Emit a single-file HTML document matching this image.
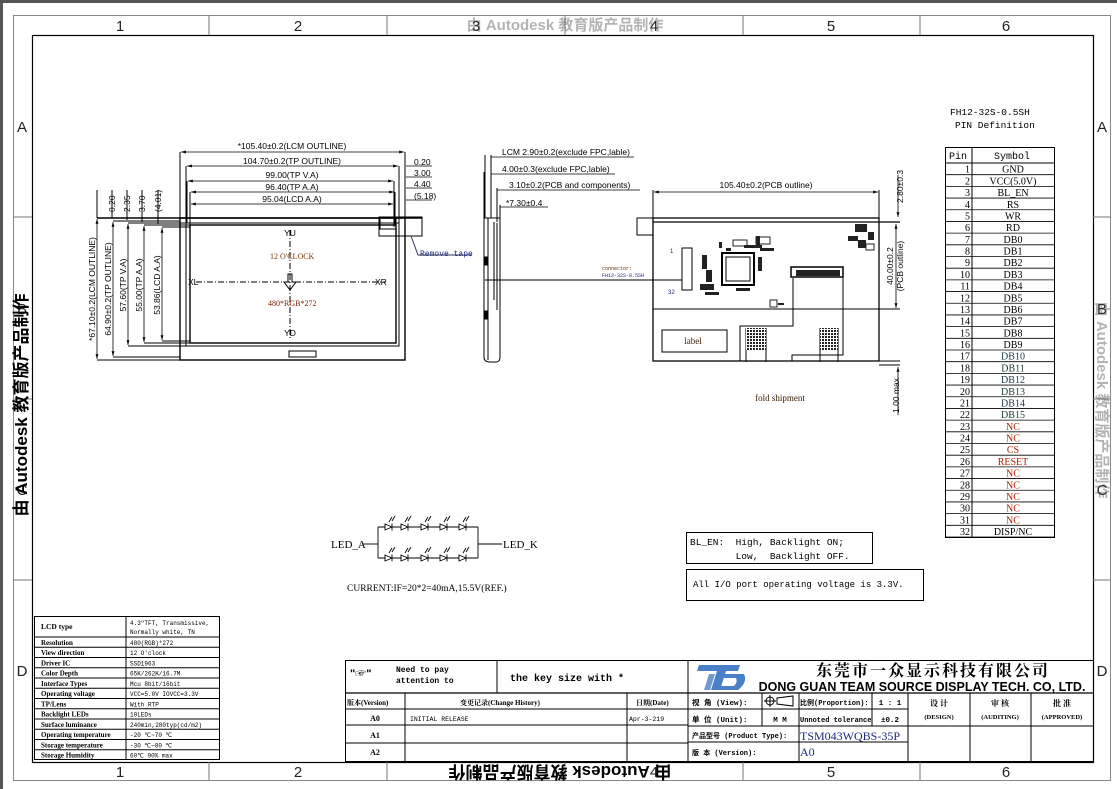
<!DOCTYPE html>
<html><head><meta charset="utf-8"><style>
html,body{margin:0;padding:0;background:#fff;}
svg{display:block;}
text{font-family:"Liberation Sans","Noto Sans CJK SC",sans-serif;}
.s,.s text,text.s{font-family:"Liberation Serif","Noto Serif CJK SC",serif;}
.m,.m text,text.m{font-family:"Liberation Mono","Noto Sans CJK SC",monospace;}
</style></head><body>
<svg width="1117" height="789" viewBox="0 0 1117 789" xmlns="http://www.w3.org/2000/svg">
<defs>
<marker id="a" viewBox="0 0 10 10" refX="10" refY="5" markerWidth="6" markerHeight="6" orient="auto-start-reverse"><path d="M0,2 L10,5 L0,8z" fill="#000"/></marker>
<pattern id="h" width="3" height="3" patternUnits="userSpaceOnUse"><rect width="3" height="3" fill="#fff"/><rect width="2" height="2" fill="#222"/></pattern>
</defs>
<rect x="0" y="0" width="1117" height="789" fill="#fff"/>
<rect x="0" y="0" width="1117" height="3" fill="#555"/>
<rect x="0" y="0" width="3" height="789" fill="#555"/>
<rect x="13.5" y="15.5" width="1097" height="765" fill="none" stroke="#888" stroke-width="1"/>
<rect x="32.5" y="35.5" width="1061" height="727" fill="none" stroke="#000" stroke-width="1.2"/>
<g stroke="#777" stroke-width="1">
<line x1="209" y1="15" x2="209" y2="35"/><line x1="387" y1="15" x2="387" y2="35"/><line x1="565" y1="15" x2="565" y2="35"/><line x1="743" y1="15" x2="743" y2="35"/><line x1="920" y1="15" x2="920" y2="35"/>
<line x1="209" y1="762" x2="209" y2="780"/><line x1="387" y1="762" x2="387" y2="780"/><line x1="565" y1="762" x2="565" y2="780"/><line x1="743" y1="762" x2="743" y2="780"/><line x1="920" y1="762" x2="920" y2="780"/>
<line x1="13" y1="217" x2="32" y2="217"/><line x1="13" y1="399" x2="32" y2="399"/><line x1="13" y1="580" x2="32" y2="580"/>
<line x1="1093" y1="217" x2="1110" y2="217"/><line x1="1093" y1="399" x2="1110" y2="399"/><line x1="1093" y1="580" x2="1110" y2="580"/>
</g>
<g font-size="15" fill="#222" text-anchor="middle">
<text x="120" y="31">1</text><text x="298" y="31">2</text><text x="476" y="31">3</text><text x="654" y="31">4</text><text x="831" y="31">5</text><text x="1006" y="31">6</text>
<text x="120" y="777">1</text><text x="298" y="777">2</text><text x="476" y="777">3</text><text x="654" y="777">4</text><text x="831" y="777">5</text><text x="1006" y="777">6</text>
<text x="22" y="132">A</text><text x="22" y="314">B</text><text x="22" y="495">C</text><text x="22" y="676">D</text>
<text x="1102" y="132">A</text><text x="1102" y="314">B</text><text x="1102" y="495">C</text><text x="1102" y="676">D</text>
</g>
<text transform="translate(27,405) rotate(-90)" font-size="17" font-weight="bold" text-anchor="middle" fill="#000">由 Autodesk 教育版产品制作</text>
<text transform="translate(560,766) rotate(180)" font-size="17" font-weight="bold" text-anchor="middle" fill="#000">由 Autodesk 教育版产品制作</text>
<text transform="translate(1097,400) rotate(90)" font-size="15" font-weight="bold" text-anchor="middle" fill="#444" opacity="0.4">由 Autodesk 教育版产品制作</text>
<text x="565" y="30" font-size="15" font-weight="bold" text-anchor="middle" fill="#444" opacity="0.4">由 Autodesk 教育版产品制作</text>

<!-- FRONT VIEW -->
<g fill="none" stroke="#000" stroke-width="1">
<rect x="180" y="218" width="225" height="142" stroke-width="1.4"/>
<rect x="186" y="223" width="213" height="123"/>
<rect x="190" y="225" width="206" height="118" stroke-width="1.4"/>
<line x1="97" y1="218" x2="422" y2="218" stroke-width="1.6"/>
<line x1="113" y1="221" x2="180" y2="221"/>
<line x1="128" y1="223" x2="186" y2="223"/>
<line x1="144" y1="225" x2="190" y2="225"/>
<line x1="162" y1="227" x2="190" y2="227"/>
<line x1="97" y1="360" x2="180" y2="360"/>
<line x1="113" y1="357" x2="180" y2="357"/>
<line x1="128" y1="346" x2="186" y2="346"/>
<line x1="144" y1="343" x2="190" y2="343"/>
<line x1="162" y1="341" x2="190" y2="341"/>
<rect x="379" y="217" width="43" height="19"/>
<rect x="380" y="218" width="16" height="11"/>
<path d="M411,236 L418,255 L472,255" stroke="#335"/>
<rect x="289" y="351" width="27" height="6"/>
<line x1="290" y1="230" x2="290" y2="340" stroke-dasharray="6,2,1,2"/>
<line x1="196" y1="282" x2="386" y2="282" stroke-dasharray="6,2,1,2"/>
<path d="M288,274 L288,282 L284,282 L290,290 L296,282 L292,282 L292,274z"/>
<line x1="180" y1="152" x2="180" y2="218"/><line x1="405" y1="152" x2="405" y2="218"/>
<line x1="186" y1="166" x2="186" y2="223"/><line x1="399" y1="166" x2="399" y2="223"/>
<line x1="187" y1="181" x2="187" y2="223"/><line x1="394" y1="181" x2="394" y2="223"/>
<line x1="190" y1="192" x2="190" y2="225"/><line x1="395" y1="192" x2="395" y2="225"/>
<line x1="190" y1="204" x2="190" y2="227"/><line x1="394" y1="204" x2="394" y2="227"/>
<line x1="97" y1="190" x2="97" y2="218"/><line x1="112" y1="190" x2="112" y2="218"/><line x1="127" y1="190" x2="127" y2="220"/><line x1="142" y1="190" x2="142" y2="222"/><line x1="158" y1="190" x2="158" y2="224"/>
</g>
<g stroke="#000" stroke-width="0.8" marker-start="url(#a)" marker-end="url(#a)">
<line x1="181" y1="152" x2="404" y2="152"/>
<line x1="187" y1="166" x2="398" y2="166"/>
<line x1="188" y1="181" x2="393" y2="181"/>
<line x1="191" y1="192" x2="394" y2="192"/>
<line x1="191" y1="204" x2="393" y2="204"/>
<line x1="97" y1="219" x2="97" y2="359"/>
<line x1="113" y1="222" x2="113" y2="356"/>
<line x1="128" y1="224" x2="128" y2="345"/>
<line x1="144" y1="226" x2="144" y2="342"/>
<line x1="162" y1="228" x2="162" y2="340"/>
</g>
<g stroke="#000" stroke-width="0.8">
<line x1="406" y1="166" x2="432" y2="166"/><line x1="406" y1="177" x2="432" y2="177"/><line x1="406" y1="188" x2="432" y2="188"/><line x1="406" y1="200" x2="432" y2="200"/>
</g>
<g font-size="8.5" fill="#000">
<text x="292" y="149" text-anchor="middle">*105.40±0.2(LCM OUTLINE)</text>
<text x="292" y="164" text-anchor="middle">104.70±0.2(TP OUTLINE)</text>
<text x="292" y="178" text-anchor="middle">99.00(TP V.A)</text>
<text x="292" y="190" text-anchor="middle">96.40(TP A.A)</text>
<text x="292" y="202" text-anchor="middle">95.04(LCD A.A)</text>
<text x="414" y="165">0.20</text><text x="414" y="176">3.00</text><text x="414" y="187">4.40</text><text x="414" y="199">(5.18)</text>
<text transform="translate(115,212) rotate(-90)">0.20</text>
<text transform="translate(130,212) rotate(-90)">2.35</text>
<text transform="translate(145,212) rotate(-90)">3.70</text>
<text transform="translate(161,212) rotate(-90)">(4.01)</text>
<text transform="translate(95,289) rotate(-90)" text-anchor="middle">*67.10±0.2(LCM OUTLINE)</text>
<text transform="translate(111,289) rotate(-90)" text-anchor="middle">64.90±0.2(TP OUTLINE)</text>
<text transform="translate(126,285) rotate(-90)" text-anchor="middle">57.60(TP V.A)</text>
<text transform="translate(142,285) rotate(-90)" text-anchor="middle">55.00(TP A.A)</text>
<text transform="translate(160,285) rotate(-90)" text-anchor="middle">53.86(LCD A.A)</text>
<text x="290" y="236" text-anchor="middle">YU</text>
<text x="290" y="336" text-anchor="middle">YD</text>
<text x="188" y="285">XL</text>
<text x="375" y="285">XR</text>
</g>
<text x="270" y="259" font-size="8" class="s" fill="#7a3a00">12 O'CLOCK</text>
<text x="268" y="306" font-size="8" class="s" fill="#7a1a00">480*RGB*272</text>
<text x="420" y="256" font-size="8" class="m" fill="#1a2a7a">Remove tape</text>

<!-- SIDE VIEW -->
<g fill="none" stroke="#000" stroke-width="1">
<path d="M484,218 L484,357 Q484,362 490,362 L496,362 Q500,362 500,357 L500,218z"/>
<line x1="488" y1="218" x2="488" y2="360"/>
<line x1="494" y1="222" x2="494" y2="300"/>
<line x1="497" y1="223" x2="497" y2="310"/>
<rect x="484" y="257" width="3" height="8" fill="#000"/><rect x="484" y="311" width="3" height="8" fill="#000"/>
<line x1="485" y1="155" x2="485" y2="218"/><line x1="491" y1="155" x2="491" y2="218"/>
<line x1="484" y1="172" x2="484" y2="218"/><line x1="497" y1="188" x2="497" y2="222"/><line x1="500" y1="205" x2="500" y2="218"/>
</g>
<g stroke="#000" stroke-width="0.8">
<line x1="491" y1="157" x2="634" y2="157"/><line x1="491" y1="174" x2="615" y2="174"/><line x1="497" y1="190" x2="640" y2="190"/><line x1="500" y1="207" x2="548" y2="207"/>
</g>
<g font-size="8.5" fill="#000">
<text x="502" y="155">LCM 2.90±0.2(exclude FPC,lable)</text>
<text x="502" y="172">4.00±0.3(exclude FPC,lable)</text>
<text x="509" y="188">3.10±0.2(PCB and components)</text>
<text x="506" y="206">*7.30±0.4</text>
</g>

<!-- BACK VIEW -->
<g fill="none" stroke="#000" stroke-width="1">
<rect x="653" y="218" width="226" height="143" stroke-width="1.3"/>
<line x1="653" y1="222" x2="900" y2="222" stroke-width="1.3"/>
<line x1="653" y1="309" x2="900" y2="309"/>
<rect x="637" y="218" width="16" height="17"/>
<line x1="653" y1="190" x2="653" y2="218"/><line x1="879" y1="190" x2="879" y2="218"/>
<line x1="879" y1="361" x2="900" y2="361"/><line x1="879" y1="365" x2="900" y2="365"/>
<rect x="662" y="330" width="65" height="22"/>
<rect x="722" y="253" width="32" height="32" stroke-width="2"/>
<rect x="726" y="257" width="24" height="24"/>
<rect x="682" y="248" width="10" height="42"/>
<rect x="791" y="267" width="52" height="10" stroke-width="1.5"/>
<path d="M793,278 L793,326 L740,326 L740,361"/>
<path d="M843,278 L843,355 L792,355 L792,361"/>
<path d="M746,328 L746,362 M766,328 L766,362 M820,328 L820,362 M838,328 L838,362"/>
<line x1="485" y1="280" x2="682" y2="280"/>
</g>
<rect x="746" y="328" width="20" height="22" fill="url(#h)"/>
<rect x="820" y="328" width="18" height="22" fill="url(#h)"/>
<g fill="#222">
<rect x="719" y="242" width="3" height="6"/><rect x="726" y="248" width="5" height="3"/><rect x="733" y="240" width="14" height="6" fill="none" stroke="#222"/><rect x="744" y="245" width="18" height="3"/><rect x="756" y="236" width="4" height="10"/>
<rect x="756" y="237" width="14" height="7" fill="none" stroke="#222"/><rect x="760" y="248" width="14" height="3"/>
<rect x="702" y="255" width="5" height="14"/><rect x="706" y="270" width="6" height="12"/><rect x="700" y="284" width="14" height="6"/><rect x="705" y="292" width="14" height="3"/>
<rect x="758" y="257" width="4" height="14"/><rect x="736" y="288" width="14" height="3"/>
<rect x="770" y="300" width="7" height="7" fill="none" stroke="#222"/><rect x="778" y="303" width="6" height="2"/>
<rect x="855" y="224" width="12" height="8"/><rect x="848" y="236" width="10" height="5"/><rect x="858" y="240" width="8" height="8"/><rect x="868" y="232" width="6" height="8"/><rect x="866" y="244" width="8" height="6" fill="none" stroke="#222"/>
<rect x="796" y="270" width="44" height="6"/>
</g>
<g font-size="8.5" fill="#000">
<text x="766" y="188" text-anchor="middle">105.40±0.2(PCB outline)</text>
<text transform="translate(903,203) rotate(-90)">2.80±0.3</text>
<text transform="translate(893,266) rotate(-90)" text-anchor="middle">40.00±0.2</text>
<text transform="translate(903,266) rotate(-90)" text-anchor="middle">(PCB outline)</text>
<text transform="translate(899,413) rotate(-90)">1.00 max</text>
</g>
<g stroke="#000" stroke-width="0.8">
<line x1="654" y1="192" x2="878" y2="192" marker-start="url(#a)" marker-end="url(#a)"/>
<line x1="898" y1="175" x2="898" y2="217" marker-end="url(#a)"/>
<line x1="896" y1="224" x2="896" y2="308" marker-start="url(#a)" marker-end="url(#a)"/>
<line x1="898" y1="367" x2="898" y2="415" marker-start="url(#a)"/>
</g>
<text x="693" y="344" font-size="9" class="s" text-anchor="middle" fill="#3a1a00">label</text>
<text x="780" y="401" font-size="9" class="s" text-anchor="middle" fill="#3a1a00">fold shipment</text>
<text x="670" y="253" font-size="6" fill="#1a2a7a">1</text>
<text x="668" y="294" font-size="6" fill="#1a2a7a">32</text>
<text x="602" y="270" font-size="5" class="m" fill="#5a2a00">connector:</text>
<text x="602" y="277" font-size="5" class="m" fill="#1a2a7a">FH12-32S-0.5SH</text>

<!-- LED circuit -->
<g fill="none" stroke="#000" stroke-width="0.9">
<line x1="362" y1="544" x2="378" y2="544"/><line x1="378" y1="527" x2="378" y2="558"/>
<line x1="478" y1="527" x2="478" y2="558"/><line x1="478" y1="544" x2="502" y2="544"/>
<line x1="378" y1="527" x2="478" y2="527"/><line x1="378" y1="558" x2="478" y2="558"/>
</g>
<g id="leds" fill="#fff" stroke="#000" stroke-width="0.9"></g>
<script>
var ns="http://www.w3.org/2000/svg",lg=document.getElementById("leds");
[389,405,425,444,463].forEach(function(x){[527,558].forEach(function(y){
var p=document.createElementNS(ns,"path");
p.setAttribute("d","M"+(x-4)+","+(y-3)+" L"+(x+3)+","+y+" L"+(x-4)+","+(y+3)+"z M"+(x+3)+","+(y-3.5)+" L"+(x+3)+","+(y+3.5)+" M"+x+","+(y-5)+" L"+(x+3)+","+(y-10)+" M"+(x+3)+","+(y-6)+" L"+(x+6)+","+(y-11));
lg.appendChild(p);});});
</script>
<g class="s" fill="#000" font-size="11">
<text x="331" y="548">LED_A</text><text x="503" y="548">LED_K</text>
</g>
<text x="347" y="591" class="s" font-size="9.5">CURRENT:IF=20*2=40mA,15.5V(REF.)</text>
<rect x="686.5" y="532.5" width="186" height="31" fill="none" stroke="#000"/>
<rect x="686.5" y="569.5" width="237" height="31" fill="none" stroke="#000"/>
<g class="m" font-size="9.5" fill="#000">
<text x="690" y="545" xml:space="preserve">BL_EN:  High, Backlight ON;</text>
<text x="690" y="559" xml:space="preserve">        Low,  Backlight OFF.</text>
<text x="693" y="587" font-size="9">All I/O port operating voltage is 3.3V.</text>
</g>

<!-- PIN table -->
<text x="950" y="115" class="m" font-size="9.5">FH12-32S-0.5SH</text>
<text x="955" y="128" class="m" font-size="9.5">PIN Definition</text>
<g stroke="#000" fill="none" stroke-width="1">
<rect x="945.5" y="147.5" width="109" height="390"/>
<line x1="972" y1="147" x2="972" y2="537"/>
<line x1="945" y1="163" x2="1055" y2="163"/>
</g>
<g id="pins" font-size="10" class="s" fill="#000"></g>
<text x="958" y="159" font-size="10" class="m" text-anchor="middle">Pin</text>
<text x="1012" y="159" font-size="10" class="m" text-anchor="middle">Symbol</text>
<script>
var syms=["GND","VCC(5.0V)","BL_EN","RS","WR","RD","DB0","DB1","DB2","DB3","DB4","DB5","DB6","DB7","DB8","DB9","DB10","DB11","DB12","DB13","DB14","DB15","NC","NC","CS","RESET","NC","NC","NC","NC","NC","DISP/NC"];
var g=document.getElementById("pins"),h=(537-163)/32;
for(var i=0;i<32;i++){var y=163+(i+1)*h;
var l=document.createElementNS(ns,"line");l.setAttribute("x1",945);l.setAttribute("x2",1055);l.setAttribute("y1",y);l.setAttribute("y2",y);l.setAttribute("stroke","#000");l.setAttribute("stroke-width","0.8");g.appendChild(l);
var t=document.createElementNS(ns,"text");t.setAttribute("x",970);t.setAttribute("y",y-2);t.setAttribute("text-anchor","end");t.textContent=i+1;g.appendChild(t);
var s=document.createElementNS(ns,"text");s.setAttribute("x",1013);s.setAttribute("y",y-2);s.setAttribute("text-anchor","middle");var red=(syms[i]=="NC"||syms[i]=="CS"||syms[i]=="RESET");s.setAttribute("fill",red?"#b02000":(i>=16&&i<22?"#1a3a3a":"#000"));s.textContent=syms[i];g.appendChild(s);}
</script>

<!-- spec table -->
<g stroke="#000" fill="none" stroke-width="1">
<rect x="34.5" y="616.5" width="185" height="143"/>
<line x1="126" y1="616" x2="126" y2="760"/>
</g>
<g id="spec" font-size="7"></g>
<script>
var rows=[["Resolution","480(RGB)*272"],["View direction","12 O'clock"],["Driver IC","SSD1963"],["Color Depth","65K/262K/16.7M"],["Interface Types","Mcu 8bit/16bit"],["Operating voltage","VCC=5.0V   IOVCC=3.3V"],["TP/Lens","With RTP"],["Backlight LEDs","10LEDs"],["Surface luminance","240min,280typ(cd/m2)"],["Operating temperature","-20 ℃~70 ℃"],["Storage temperature","-30 ℃~80 ℃"],["Storage Humidity","60℃ 90% max"]];
var g2=document.getElementById("spec"),y0=637,rh=(760-637)/12;
function tx(x,y,s,b,f,fs){var t=document.createElementNS(ns,"text");t.setAttribute("x",x);t.setAttribute("y",y);t.setAttribute("style","font-family:"+f+";font-size:"+fs+"px;"+(b?"font-weight:bold;":""));t.textContent=s;g2.appendChild(t);}
var SR='"Liberation Serif",serif',MO='"Liberation Mono",monospace';
tx(41,629,"LCD type",1,SR,7.5);tx(130,625,"4.3\"TFT, Transmissive,",0,MO,6);tx(130,634,"Normally white, TN",0,MO,6);
for(var i=0;i<12;i++){var y=y0+i*rh;var l=document.createElementNS(ns,"line");l.setAttribute("x1",34);l.setAttribute("x2",220);l.setAttribute("y1",y);l.setAttribute("y2",y);l.setAttribute("stroke","#000");g2.appendChild(l);
tx(41,y+rh-2.5,rows[i][0],1,SR,7);tx(130,y+rh-2.5,rows[i][1],0,MO,6);}
</script>

<!-- title block -->
<g stroke="#000" fill="none" stroke-width="1">
<rect x="345.5" y="660.5" width="748" height="101"/>
<line x1="497" y1="660" x2="497" y2="693"/><line x1="688" y1="660" x2="688" y2="762"/>
<line x1="345" y1="693" x2="1093" y2="693" stroke-width="1.3"/>
<line x1="345" y1="709" x2="688" y2="709"/><line x1="345" y1="725" x2="688" y2="725"/><line x1="345" y1="743" x2="688" y2="743"/>
<line x1="405" y1="693" x2="405" y2="762"/><line x1="627" y1="693" x2="627" y2="762"/>
<line x1="688" y1="709" x2="908" y2="709"/><line x1="688" y1="726" x2="908" y2="726"/><line x1="688" y1="742" x2="908" y2="742"/>
<line x1="762" y1="693" x2="762" y2="726"/><line x1="799" y1="693" x2="799" y2="762"/><line x1="872" y1="693" x2="872" y2="726"/>
<line x1="908" y1="693" x2="908" y2="762"/><line x1="970" y1="693" x2="970" y2="762"/><line x1="1031" y1="693" x2="1031" y2="762"/>
<line x1="908" y1="726" x2="1093" y2="726"/>
<circle cx="770" cy="701" r="4"/><line x1="764" y1="701" x2="776" y2="701"/><line x1="770" y1="695" x2="770" y2="707"/><path d="M777,698 L793,696 L793,706 L777,704z"/>
</g>
<g font-size="8" font-weight="bold" fill="#000">
<text x="350" y="677" font-size="11">"☞"</text>
<text x="396" y="672" class="m">Need to pay</text><text x="396" y="683" class="m">attention to</text>
<text x="510" y="681" font-size="10" class="m">the key size with *</text>
<text x="347" y="705" font-size="7" class="s">版本(Version)</text>
<text x="460" y="705" font-size="7" class="s">变更记录(Change History)</text>
<text x="636" y="705" font-size="7" class="s">日期(Date)</text>
<text x="375" y="721" text-anchor="middle" class="s">A0</text><text x="375" y="738" text-anchor="middle" class="s">A1</text><text x="375" y="755" text-anchor="middle" class="s">A2</text>
<text x="410" y="721" font-weight="normal" font-size="6.5" class="m">INITIAL RELEASE</text>
<text x="629" y="721" font-weight="normal" font-size="6.5" class="m">Apr-3-219</text>
<text x="692" y="705" font-size="7.5" class="m">视  角 (View):</text>
<text x="692" y="722" font-size="7.5" class="m">单  位 (Unit):</text>
<text x="780" y="722" text-anchor="middle" font-size="7.5" class="m">M M</text>
<text x="800" y="705" font-size="7" class="m">比例(Proportion):</text>
<text x="890" y="705" text-anchor="middle" font-size="7.5" class="m">1 : 1</text>
<text x="800" y="722" font-size="7" class="m">Unnoted tolerance</text>
<text x="890" y="722" text-anchor="middle" font-size="7.5" class="m">±0.2</text>
<text x="692" y="738" font-size="7" class="m">产品型号 (Product Type):</text>
<text x="692" y="755" font-size="7" class="m">版    本  (Version):</text>
<text x="939" y="706" text-anchor="middle" class="s">设 计</text><text x="939" y="719" text-anchor="middle" font-size="6.5" class="s">(DESIGN)</text>
<text x="1000" y="706" text-anchor="middle" class="s">审 核</text><text x="1000" y="719" text-anchor="middle" font-size="6.5" class="s">(AUDITING)</text>
<text x="1062" y="706" text-anchor="middle" class="s">批 准</text><text x="1062" y="719" text-anchor="middle" font-size="6.5" class="s">(APPROVED)</text>
</g>
<text x="800" y="740" font-size="12" class="s" fill="#1a2a7a">TSM043WQBS-35P</text>
<text x="800" y="756" font-size="12" class="s" fill="#1a2a7a">A0</text>
<g fill="#4a80c8">
<path d="M699,665 L740,665 L738,671 L726,671 L720,690 L711,690 L717,671 L697,671z"/>
<path d="M709,674 L715,674 L710,690 L704,690z" opacity="0.8"/>
<path d="M722,674 L744,674 Q748,682 738,690 L716,690 L719,686 L734,686 Q738,682 736,678 L721,678z"/>
</g>
<text x="1050" y="676" font-size="16" font-weight="bold" text-anchor="end" class="s" fill="#000" letter-spacing="2">东莞市一众显示科技有限公司</text>
<text x="922" y="691" font-size="12.5" font-weight="bold" text-anchor="middle" fill="#000">DONG GUAN TEAM SOURCE DISPLAY TECH. CO, LTD.</text>
</svg>
</body></html>
